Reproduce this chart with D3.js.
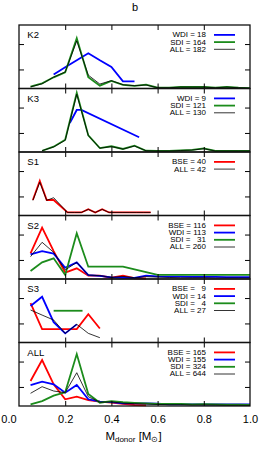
<!DOCTYPE html>
<html>
<head>
<meta charset="utf-8">
<script src="https://cdnjs.cloudflare.com/ajax/libs/d3/7.8.5/d3.min.js"></script>
<style>
body{margin:0;background:#fff;}
svg text{font-family:"Liberation Sans", Arial, sans-serif;fill:#000;}
</style>
</head>
<body>
<svg></svg>
<script>
// shared bins (M_donor, 0.05 steps)
var grid = [0.05,0.10,0.15,0.20,0.25,0.30,0.35,0.40,0.45,0.50,0.55,0.60,0.65,0.70,0.75,0.80,0.85,0.90,0.95,1.00];

// K2
var k2WdiX = [0.15,0.20,0.25,0.30,0.35,0.40,0.45,0.50];
var k2WdiY = [0.111,0.167,0.222,0.278,0.222,0.170,0.056,0.056];
var k2SdiY = [0.014,0.041,0.088,0.128,0.395,0.088,0.022,0.059,0.028,0.020,0.030,0.006,0.006,0.012,0.012,0.012,0.006,0.012,0.006,0.003];
var k2AllY = [0.013,0.037,0.090,0.130,0.375,0.105,0.035,0.062,0.030,0.022,0.028,0.006,0.006,0.011,0.011,0.011,0.006,0.011,0.006,0.003];

// K3
var k3X = [0.10,0.15,0.20,0.25,0.30,0.35,0.40,0.45,0.50,0.55,0.60,0.65,0.70,0.75,0.80,0.85,0.90,0.95,1.00];
var k3WdiX = [0.22,0.25,0.27,0.52];
var k3WdiY = [0.228,0.331,0.331,0.116];
var k3SdiY = [0.010,0.042,0.097,0.465,0.131,0.031,0.045,0.024,0.050,0.010,0.008,0.008,0.012,0.016,0.028,0.008,0.008,0.008,0.008];
var k3AllY = [0.010,0.040,0.092,0.455,0.130,0.030,0.043,0.023,0.047,0.010,0.008,0.008,0.012,0.015,0.026,0.008,0.008,0.008,0.008];

// S1
var s1X = [0.06,0.09,0.12,0.15,0.21,0.24,0.27,0.30,0.33,0.36,0.39,0.42,0.45,0.48,0.51,0.54,0.57];
var s1BseY = [0.122,0.272,0.122,0.122,0.024,0.024,0.024,0.049,0.024,0.049,0.024,0.024,0.024,0.024,0.024,0.024,0.024];
var s1AllY = [0.119,0.262,0.119,0.140,0.024,0.024,0.024,0.048,0.024,0.048,0.024,0.024,0.024,0.024,0.024,0.024,0.024];

// S2
var s2BseX = [0.05,0.10,0.15,0.20,0.25,0.30,0.35,0.40,0.45,0.50,0.55];
var s2BseY = [0.202,0.404,0.220,0.050,0.084,0.026,0.026,0.010,0.026,0.006,0.004];
var s2WdiY = [0.194,0.220,0.200,0.089,0.131,0.031,0.024,0.012,0.010,0.008,0.026,0.020,0.018,0.018,0.016,0.016,0.016,0.014,0.014,0.014];
var s2SdiY = [0.063,0.131,0.163,0.032,0.360,0.097,0.097,0.097,0.097,0.075,0.055,0.032,0.032,0.032,0.032,0.032,0.032,0.032,0.032,0.032];
var s2AllY = [0.176,0.289,0.210,0.071,0.131,0.031,0.026,0.012,0.020,0.010,0.018,0.015,0.012,0.010,0.010,0.010,0.008,0.008,0.008,0.008];

// S3
var s3X = [0.05,0.10,0.15,0.20,0.25,0.30,0.35];
var s3BseY = [0.310,0.106,0.106,0.106,0.106,0.222,0.110];
var s3WdiX = [0.05,0.10,0.15,0.20,0.25];
var s3WdiY = [0.287,0.360,0.160,0.072,0.143];
var s3SdiX = [0.15,0.275];
var s3SdiY = [0.250,0.250];
var s3AllY = [0.256,0.216,0.177,0.072,0.143,0.072,0.038];

// ALL
var allBseX = [0.05,0.10,0.15,0.20,0.25,0.30,0.35,0.40,0.45,0.50,0.55];
var allBseY = [0.197,0.362,0.171,0.053,0.073,0.047,0.034,0.026,0.016,0.008,0.005];
var allWdiY = [0.165,0.191,0.171,0.105,0.165,0.053,0.034,0.030,0.020,0.020,0.020,0.018,0.013,0.013,0.013,0.012,0.012,0.012,0.012,0.012];
var allSdiY = [0.013,0.039,0.081,0.108,0.409,0.094,0.026,0.039,0.030,0.024,0.020,0.016,0.016,0.016,0.012,0.014,0.012,0.010,0.010,0.008];
var allAllY = [0.100,0.152,0.118,0.105,0.262,0.073,0.030,0.032,0.022,0.018,0.015,0.012,0.010,0.010,0.008,0.008,0.008,0.006,0.006,0.005];

// legend texts
var k2Labels = ["WDI = 18","SDI = 164","ALL = 182"];
var k3Labels = ["WDI = 9","SDI = 121","ALL = 130"];
var s1Labels = ["BSE = 40","ALL = 42"];
var s2Labels = ["BSE = 116","WDI = 113","SDI =   31","ALL = 260"];
var s3Labels = ["BSE =   9","WDI = 14","SDI =   4","ALL = 27"];
var allLabels = ["BSE = 165","WDI = 155","SDI = 324","ALL = 644"];

var panelNames = ["K2","K3","S1","S2","S3","ALL"];
var xTicks = [0.0,0.2,0.4,0.6,0.8,1.0];
var yTicks = [0.15,0.35];
var yMax = 0.5;

function zip(xs, ys){
	return xs.map(function(v, i){ return [v, ys[i]]; });
}

var panels = [
	{name: panelNames[0], labels: k2Labels, kinds: ["WDI","SDI","ALL"],
	 series: [zip(k2WdiX, k2WdiY), zip(grid, k2SdiY), zip(grid, k2AllY)]},
	{name: panelNames[1], labels: k3Labels, kinds: ["WDI","SDI","ALL"],
	 series: [zip(k3WdiX, k3WdiY), zip(k3X, k3SdiY), zip(k3X, k3AllY)]},
	{name: panelNames[2], labels: s1Labels, kinds: ["BSE","ALL"],
	 series: [zip(s1X, s1BseY), zip(s1X, s1AllY)]},
	{name: panelNames[3], labels: s2Labels, kinds: ["BSE","WDI","SDI","ALL"],
	 series: [zip(s2BseX, s2BseY), zip(grid, s2WdiY), zip(grid, s2SdiY), zip(grid, s2AllY)]},
	{name: panelNames[4], labels: s3Labels, kinds: ["BSE","WDI","SDI","ALL"],
	 series: [zip(s3X, s3BseY), zip(s3WdiX, s3WdiY), zip(s3SdiX, s3SdiY), zip(s3X, s3AllY)]},
	{name: panelNames[5], labels: allLabels, kinds: ["BSE","WDI","SDI","ALL"],
	 series: [zip(allBseX, allBseY), zip(grid, allWdiY), zip(grid, allSdiY), zip(grid, allAllY)]}
];

var colors = {BSE: "#ff0000", WDI: "#0000ff", SDI: "#1c8c1c", ALL: "#000000"};
var widths = {BSE: 1.8, WDI: 1.8, SDI: 1.8, ALL: 0.8};

var width = 262, height = 451;
var left = 19, right = 250, top0 = 25, panelH = 63.5;

var svg = d3.select("svg").attr("width", width).attr("height", height);

var x = d3.scaleLinear().domain([0, 1]).range([left, right]);

svg.append("text")
	.attr("x", 135).attr("y", 10.5)
	.attr("text-anchor", "middle")
	.style("font-size", "11px")
	.text("b");

panels.forEach(function(p, i){
	var top = top0 + i*panelH, bottom = top + panelH;
	var y = d3.scaleLinear().domain([0, yMax]).range([bottom, top]);
	var g = svg.append("g");

	var line = d3.line()
		.x(function(d){ return x(d[0]); })
		.y(function(d){ return y(d[1]); });

	g.selectAll("path.series").data(p.series).enter()
		.append("path")
		.attr("class", "series")
		.attr("d", line)
		.style("fill", "none")
		.style("stroke", function(d, j){ return colors[p.kinds[j]]; })
		.style("stroke-width", function(d, j){ return widths[p.kinds[j]]; })
		.style("stroke-linejoin", "miter");

	// inward ticks on all four sides
	var ax = [
		d3.axisBottom(x).tickValues(xTicks.slice(1, 5)).tickSize(-5).tickFormat(""),
		d3.axisTop(x).tickValues(xTicks.slice(1, 5)).tickSize(-5).tickFormat(""),
		d3.axisLeft(y).tickValues(yTicks).tickSize(-5).tickFormat(""),
		d3.axisRight(y).tickValues(yTicks).tickSize(-5).tickFormat("")
	];
	var pos = ["translate(0," + bottom + ")", "translate(0," + top + ")",
		"translate(" + left + ",0)", "translate(" + right + ",0)"];
	ax.forEach(function(a, k){
		var t = g.append("g").attr("transform", pos[k]).call(a);
		t.select(".domain").remove();
		t.selectAll("line").style("stroke", "#000").style("stroke-width", 1);
	});

	g.append("rect")
		.attr("x", left).attr("y", top)
		.attr("width", right - left).attr("height", panelH)
		.style("fill", "none").style("stroke", "#111").style("stroke-width", 1.3);

	g.append("text")
		.attr("x", 27.3).attr("y", top + 13.3)
		.style("font-size", "9.5px")
		.text(p.name);

	// legend: text is drawn a bit squashed vertically, like the original
	var lg = g.selectAll("g.leg").data(p.labels).enter()
		.append("g").attr("class", "leg")
		.attr("transform", function(d, j){ return "translate(0," + (top + 12.3 + j*7.2) + ")"; });
	lg.append("text")
		.attr("transform", "translate(206,0) scale(1,0.8)")
		.attr("text-anchor", "end")
		.attr("xml:space", "preserve")
		.style("white-space", "pre")
		.style("font-size", "8px")
		.text(function(d){ return d; });
	lg.append("line")
		.attr("x1", 214).attr("x2", 235)
		.attr("y1", -2.4).attr("y2", -2.4)
		.style("stroke", function(d, j){ return colors[p.kinds[j]]; })
		.style("stroke-width", function(d, j){ return widths[p.kinds[j]]; });
});

var bottomY = top0 + panels.length*panelH;
var xAxis = svg.append("g")
	.attr("transform", "translate(0," + bottomY + ")")
	.call(d3.axisBottom(x).tickValues(xTicks).tickSize(0).tickPadding(9.5).tickFormat(d3.format(".1f")));
xAxis.select(".domain").remove();
xAxis.selectAll("text").style("font-size", "11px").style("font-family", '"Liberation Sans", Arial, sans-serif');
xAxis.selectAll(".tick").filter(function(d){ return d === 0; }).select("text").attr("x", -10.5);

var xl = svg.append("text")
	.attr("x", 133.5).attr("y", 439.5)
	.attr("text-anchor", "middle")
	.style("font-size", "11.5px");
xl.append("tspan").text("M");
xl.append("tspan").attr("dy", 2.5).style("font-size", "8px").text("donor");
xl.append("tspan").attr("dy", -2.5).text(" [M");
xl.append("tspan").attr("dy", 2.5).style("font-size", "8px").text("\u2299");
xl.append("tspan").attr("dy", -2.5).text("]");
</script>
</body>
</html>
